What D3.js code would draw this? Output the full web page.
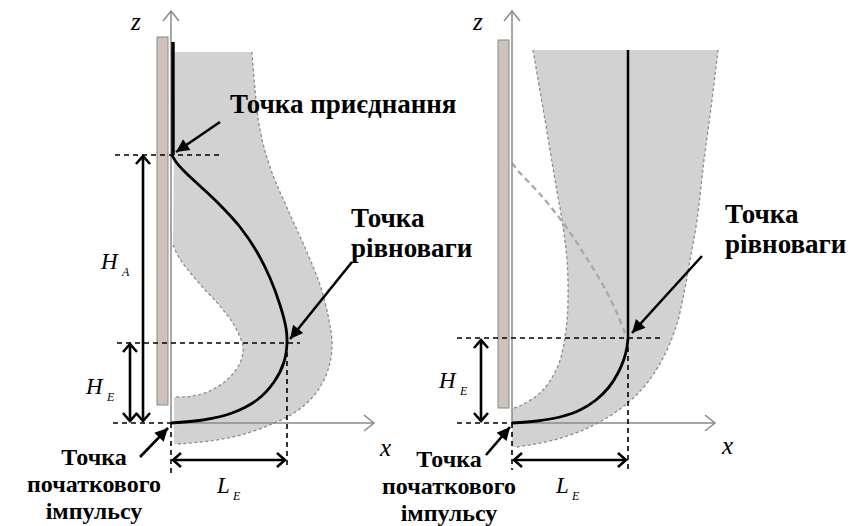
<!DOCTYPE html>
<html><head><meta charset="utf-8">
<script src="https://cdn.jsdelivr.net/npm/d3@7"></script>
<style>body{margin:0;background:#fff} svg{display:block}
text{font-family:"Liberation Serif","Times New Roman",Times,"DejaVu Serif","Noto Serif",serif;}
</style>
</head><body>
<svg id="c" width="850" height="526"></svg>
<script>
// ---- data (x = distance from wall axis, z = height; units = px-equivalent) ----
const leftAttachedSegment = [[2,381],[2,268]];
const leftTrajectory = [[1,268],[5,261],[14,251],[29,237],[49,218],[69,196],[86,171],[99,145],[109,118],[115,95],[116,80],[113,61],[103,41],[86,23],[61,10],[32,3],[0,0]];
const leftBandOuter = [[81,371],[84,333],[89,293],[100,253],[117,213],[135,173],[149,138],[158,103],[161,78],[157,53],[145,30],[126,12],[101,-1],[70,-12],[39,-18],[6,-21]];
const leftBandInner = [[2,178],[9,164],[27,141],[48,118],[63,98],[72,76],[69,60],[58,45],[41,33],[22,27],[4,26]];
const leftBandTop = [4,371];
const leftWall = [18,386];

const rightVertical = [[116,373],[116,85]];
const rightTrajectory = [[0,0],[25,2],[48,6],[68,13],[84,23],[97,36],[106,50],[112,64],[115,76],[116,85]];
const rightGhost = [[0,260],[8,250],[27,230],[52,199],[74,166],[92,136],[105,110],[113,90]];
const rightBandOuter = [[206,373],[200,323],[192,263],[185,203],[178,163],[172,130],[164,96],[150,63],[131,35],[108,14],[78,-4],[42,-17],[5,-24]];
const rightBandInner = [[21,373],[33,303],[43,243],[50,203],[55,163],[56,123],[54,93],[46,57],[30,32],[10,18],[2,15]];
const rightWall = [15,383];

const leftKey = {attach:[0,268], equil:[116,80], origin:[0,0]};
const rightKey = {equil:[116,85], origin:[0,0]};

const labels = {
  attach: "Точка приєднання",
  equil: ["Точка", "рівноваги"],
  impulse: ["Точка", "початкового", "імпульсу"]
};

// ---- drawing ----
const svg = d3.select("#c");
const defs = svg.append("defs");
function marker(id, d, opts){
  const m = defs.append("marker").attr("id", id).attr("viewBox","-14 -10 16 20")
    .attr("refX",0).attr("refY",0).attr("markerWidth",16).attr("markerHeight",20)
    .attr("markerUnits","userSpaceOnUse").attr("orient","auto-start-reverse");
  m.append("path").attr("d", d).attr("fill", opts.fill||"none")
    .attr("stroke", opts.stroke||"none").attr("stroke-width", opts.sw||0)
    .attr("stroke-linejoin","miter");
}
marker("chev","M-8,-7 L0,0 L-8,7",{stroke:"#000", sw:2.6});
marker("tri","M-13,-6.5 L0,0 L-13,6.5 Z",{fill:"#000"});
marker("axchev","M-10,-8 L0,0 L-10,8",{stroke:"#8a8a8a", sw:1.5});

function panel(ox, oy){
  return {
    x: d3.scaleLinear().domain([0,100]).range([ox, ox+100]),
    z: d3.scaleLinear().domain([0,100]).range([oy, oy-100])
  };
}
const L = panel(171, 423), R = panel(512, 423);

function lineGen(s, curve){
  return d3.line().x(d=>s.x(d[0])).y(d=>s.z(d[1])).curve(curve||d3.curveLinear);
}
const cr = d3.curveCatmullRom.alpha(0.5);

const FILL = "#d2d2d2", DASHG = "#8c8c8c";

// band polygons
function band(s, top, outer, bottomPts, inner){
  const lg = lineGen(s, cr);
  const p = "M" + s.x(top[0]) + "," + s.z(top[1]) + "L" + s.x(outer[0][0]) + "," + s.z(outer[0][1]) +
    lg(outer).replace(/^M/,"L") +
    bottomPts.map(d=>"L"+s.x(d[0])+","+s.z(d[1])).join("") +
    lg(inner.slice().reverse()).replace(/^M/,"L") + "Z";
  svg.append("path").attr("d", p).attr("fill", FILL);
  svg.append("path").attr("d", lg(outer)).attr("fill","none").attr("stroke",DASHG)
    .attr("stroke-width",1.3).attr("stroke-dasharray","3,2.5");
  svg.append("path").attr("d", lg(inner)).attr("fill","none").attr("stroke",DASHG)
    .attr("stroke-width",1.3).attr("stroke-dasharray","3,2.5");
}
band(L, leftBandTop, leftBandOuter, [[3,-21],[3,26]], leftBandInner);
band(R, rightBandInner[0], rightBandOuter, [[0,-24],[0,15]], rightBandInner);

// walls
function wall(s, w){
  svg.append("rect").attr("x", s.x(-14)).attr("width", 11)
    .attr("y", s.z(w[1])).attr("height", s.z(w[0]) - s.z(w[1]))
    .attr("fill","#cdc1b9").attr("stroke","#8a8a8a").attr("stroke-width",1);
}
wall(L, leftWall);
wall(R, rightWall);

// ghost curve on right
svg.append("path").attr("d", lineGen(R, cr)(rightGhost)).attr("fill","none")
  .attr("stroke","#aaaaaa").attr("stroke-width",2.4).attr("stroke-dasharray","6,4");

// axes
function axes(s){
  svg.append("line").attr("x1", s.x(0)).attr("y1", s.z(0)).attr("x2", s.x(0)).attr("y2", s.z(412))
    .attr("stroke","#8a8a8a").attr("stroke-width",1.5).attr("marker-end","url(#axchev)");
  svg.append("line").attr("x1", s.x(0)).attr("y1", s.z(0)).attr("x2", s.x(203)).attr("y2", s.z(0))
    .attr("stroke","#8a8a8a").attr("stroke-width",1.5).attr("marker-end","url(#axchev)");
}
axes(L); axes(R);

// guide dashed lines
function dash(s, x1, z1, x2, z2){
  svg.append("line").attr("x1", s.x(x1)).attr("y1", s.z(z1)).attr("x2", s.x(x2)).attr("y2", s.z(z2))
    .attr("stroke","#000").attr("stroke-width",1.6).attr("stroke-dasharray","5,4");
}
dash(L, -56, leftKey.attach[1], 52, leftKey.attach[1]);
dash(L, -54, leftKey.equil[1], 129, leftKey.equil[1]);
dash(L, -58, 0, 0, 0);
dash(L, leftKey.equil[0], leftKey.equil[1], leftKey.equil[0], -45);
dash(L, 0, 0, 0, -50);
dash(R, -55, rightKey.equil[1], 148, rightKey.equil[1]);
dash(R, -55, 0, 0, 0);
dash(R, rightKey.equil[0], rightKey.equil[1], rightKey.equil[0], -47);
dash(R, 0, 0, 0, -47);

// trajectories
svg.append("path").attr("d", lineGen(L)(leftAttachedSegment)).attr("stroke","#000").attr("stroke-width",3.5).attr("fill","none");
svg.append("path").attr("d", lineGen(L, cr)(leftTrajectory)).attr("stroke","#000").attr("stroke-width",2.8).attr("fill","none");
svg.append("path").attr("d", lineGen(R)(rightVertical)).attr("stroke","#000").attr("stroke-width",2.5).attr("fill","none");
svg.append("path").attr("d", lineGen(R, cr)(rightTrajectory)).attr("stroke","#000").attr("stroke-width",2.8).attr("fill","none");

// double arrows
function dbl(s, x1, z1, x2, z2){
  svg.append("line").attr("x1", s.x(x1)).attr("y1", s.z(z1)).attr("x2", s.x(x2)).attr("y2", s.z(z2))
    .attr("stroke","#000").attr("stroke-width",2.6)
    .attr("marker-start","url(#chev)").attr("marker-end","url(#chev)");
}
dbl(L, -28, leftKey.attach[1]-1, -28, 2);
dbl(L, -41, leftKey.equil[1]-1, -41, 2);
dbl(L, 2, -37, leftKey.equil[0]-2, -37);
dbl(R, -31, rightKey.equil[1]-2, -31, 2);
dbl(R, 2, -37, rightKey.equil[0]-2, -37);

// annotation arrows
function ann(x1,y1,x2,y2){
  svg.append("line").attr("x1",x1).attr("y1",y1).attr("x2",x2).attr("y2",y2)
    .attr("stroke","#000").attr("stroke-width",2.6).attr("marker-end","url(#tri)");
}
ann(220,122,176,152);
ann(352,262,290,339);
ann(702,256,632,333);
ann(140,457,168,428);
ann(486,455,510,427);

// text
function txt(x,y,s,opt){
  return svg.append("text").attr("x",x).attr("y",y).text(s)
    .attr("font-size",opt.size)
    .attr("font-weight",opt.bold?"bold":"normal").attr("font-style",opt.italic?"italic":"normal")
    .attr("text-anchor",opt.anchor||"start").attr("fill","#000");
}
function multi(x,y,lines,dy,opt){
  const t = svg.append("text").attr("x",x).attr("y",y)
    .attr("font-size",opt.size).attr("font-weight","bold")
    .attr("text-anchor",opt.anchor||"start").attr("fill","#000");
  lines.forEach((s,i)=>t.append("tspan").attr("x",x).attr("dy", i===0?0:dy).text(s));
  return t;
}
const B = {size:27, bold:true};
txt(230,113,labels.attach,B);
multi(351,227,labels.equil,30,{size:27});
multi(725,223,labels.equil,30,{size:27});
multi(94,465,labels.impulse,27,{size:24,anchor:"middle"});
multi(449,467,labels.impulse,27,{size:24,anchor:"middle"});

const I = {size:23, italic:true}, S = {size:12, italic:true};
txt(131,30,"z",{size:25,italic:true});
txt(473,30,"z",{size:25,italic:true});
txt(380,456,"x",{size:25,italic:true});
txt(722,454,"x",{size:25,italic:true});
txt(101,269,"H",I); txt(122,276,"A",S);
txt(86,394,"H",I); txt(107,401,"E",S);
txt(439,388,"H",I); txt(460,395,"E",S);
txt(217,493,"L",I); txt(233,500,"E",S);
txt(556,493,"L",I); txt(572,500,"E",S);
</script>
</body></html>
